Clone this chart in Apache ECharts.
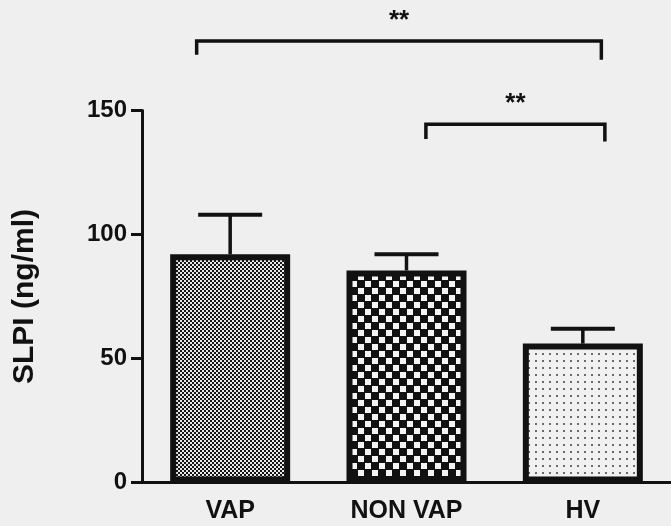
<!DOCTYPE html>
<html>
<head>
<meta charset="utf-8">
<script src="https://cdn.jsdelivr.net/npm/echarts@6/dist/echarts.min.js"></script>
<style>
  html, body { margin: 0; padding: 0; background: #efefef; }
  #chart { width: 671px; height: 526px; }
</style>
</head>
<body>
<div id="chart"></div>
<script>
// SLPI concentration per patient group (mean and SEM)
const categories = ['VAP', 'NON VAP', 'HV'];
const meanValues = [92, 85.5, 56];
const semValues = [16, 6.5, 6];
const yTicks = [0, 50, 100, 150];

// Significance brackets: [from group, to group, bracket height, label]
const bracketFrom = [0, 1];
const bracketTo = [2, 2];
const bracketLevel = [178, 144.5];
const bracketLabels = ['**', '**'];

const FONT = '"Liberation Sans", Arial, Helvetica, sans-serif';
const INK = '#111111';

// Fill textures for the three bars
function makePattern(size, bg, draw) {
  const c = document.createElement('canvas');
  c.width = size; c.height = size;
  const g = c.getContext('2d');
  g.fillStyle = bg; g.fillRect(0, 0, size, size);
  draw(g);
  return { image: c, repeat: 'repeat' };
}
const fineChecker = makePattern(4, '#151515', g => {
  g.fillStyle = '#e8e8e8';
  g.fillRect(0, 0, 2, 2);
  g.fillRect(2, 2, 2, 2);
});
const coarseChecker = makePattern(14, '#111111', g => {
  g.fillStyle = '#f4f4f4';
  g.fillRect(1, 1, 6, 6);
  g.fillRect(8, 8, 6, 6);
});
const dotted = makePattern(7, '#f1f1f1', g => {
  g.fillStyle = '#6a6a6a';
  g.fillRect(3, 3, 2, 2);
});
const fills = [fineChecker, coarseChecker, dotted];

const barData = meanValues.map((v, i) => ({
  value: v,
  itemStyle: { color: fills[i] }
}));
const errData = meanValues.map((v, i) => [i, v, semValues[i]]);
const bracketData = bracketFrom.map((f, i) => [f, bracketTo[i], bracketLevel[i], i]);

// horizontal nudges (fraction of a category band) for the bracket ends
const leftNudge = [-0.19, 0.11];
const rightNudge = [0.105, 0.125];
const leftDrop = [5.5, 6];
const rightDrop = [7.5, 7];

const chart = echarts.init(document.getElementById('chart'), null, { renderer: 'canvas' });

chart.setOption({
  backgroundColor: '#efefef',
  animation: false,
  grid: { left: 142, top: 110.5, bottom: 43.5, width: 537, containLabel: false },
  xAxis: {
    type: 'category',
    data: categories,
    axisLine: { lineStyle: { color: INK, width: 3 } },
    axisTick: { show: false },
    axisLabel: { color: INK, fontFamily: FONT, fontWeight: 'bold', fontSize: 25, margin: 16 }
  },
  yAxis: {
    type: 'value',
    min: 0, max: 150, interval: 50,
    name: 'SLPI (ng/ml)',
    nameLocation: 'middle',
    nameRotate: 90,
    nameGap: 102,
    nameTextStyle: { color: INK, fontFamily: FONT, fontWeight: 'bold', fontSize: 30 },
    splitLine: { show: false },
    axisLine: { show: true, lineStyle: { color: INK, width: 3 } },
    axisTick: { show: true, length: 11, lineStyle: { color: INK, width: 3 } },
    axisLabel: {
      color: INK, fontFamily: FONT, fontWeight: 'bold', fontSize: 24, margin: 15,
      formatter: v => (yTicks.indexOf(v) >= 0 ? String(v) : '')
    }
  },
  series: [
    {
      type: 'custom',
      name: 'SEM',
      z: 1,
      data: errData,
      renderItem: function (params, api) {
        const x = api.value(0);
        const m = api.value(1);
        const e = api.value(2);
        const base = api.coord([x, m]);
        const top = api.coord([x, m + e]);
        const half = 32;
        return {
          type: 'group',
          children: [
            { type: 'line', shape: { x1: base[0], y1: base[1], x2: top[0], y2: top[1] },
              style: { stroke: INK, lineWidth: 3.5 } },
            { type: 'line', shape: { x1: top[0] - half, y1: top[1], x2: top[0] + half, y2: top[1] },
              style: { stroke: INK, lineWidth: 4 } }
          ]
        };
      }
    },
    {
      type: 'bar',
      z: 2,
      barWidth: 120,
      data: barData,
      itemStyle: { borderColor: INK, borderWidth: 6 }
    },
    {
      type: 'custom',
      name: 'significance',
      z: 3,
      clip: false,
      data: bracketData,
      renderItem: function (params, api) {
        const i = api.value(3);
        const band = api.size([1, 0])[0];
        const level = api.value(2);
        const p0 = api.coord([api.value(0), level]);
        const p1 = api.coord([api.value(1), level]);
        const xl = p0[0] + leftNudge[i] * band;
        const xr = p1[0] + rightNudge[i] * band;
        const yl = api.coord([api.value(0), level - leftDrop[i]])[1];
        const yr = api.coord([api.value(1), level - rightDrop[i]])[1];
        return {
          type: 'group',
          children: [
            { type: 'polyline', shape: { points: [[xl, yl], [xl, p0[1]], [xr, p1[1]], [xr, yr]] },
              style: { stroke: INK, lineWidth: 3.5, fill: null } },
            { type: 'text',
              style: { text: bracketLabels[i], x: (xl + xr) / 2, y: p0[1] - 20,
                       align: 'center', verticalAlign: 'middle',
                       fontFamily: FONT, fontWeight: 'bold', fontSize: 26, fill: INK } }
          ]
        };
      }
    }
  ]
});
</script>
</body>
</html>
